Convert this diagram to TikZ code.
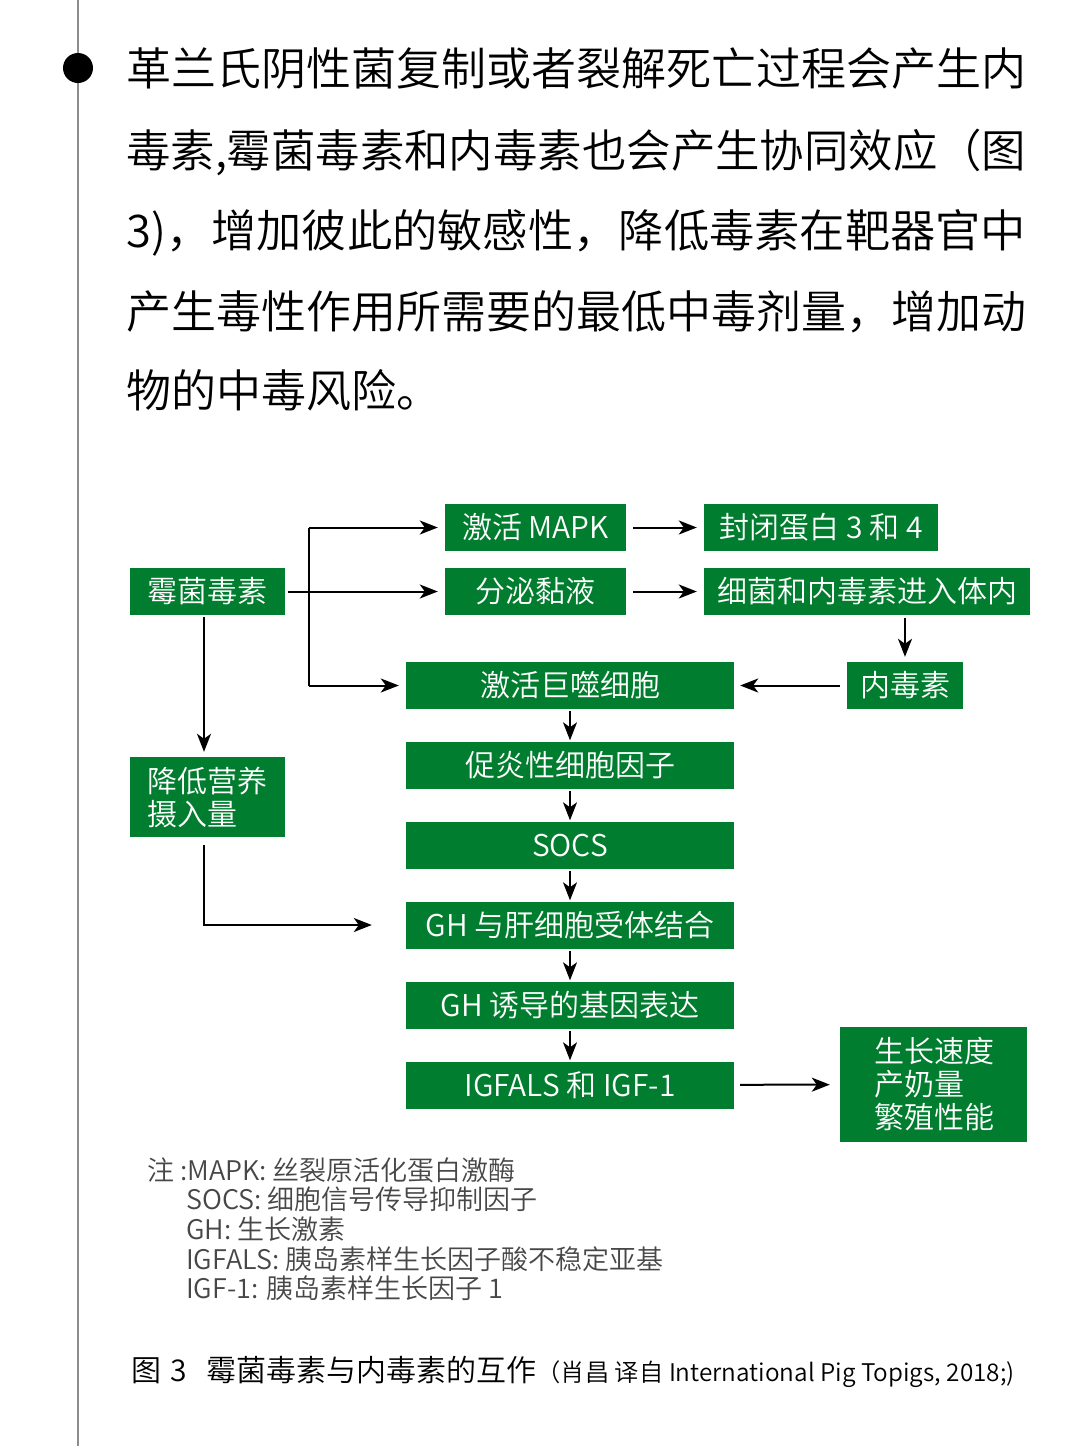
\documentclass[tikz,border=0pt]{standalone}
\usepackage{fontspec}
\setmainfont{Noto Sans CJK SC}[UprightFont={* DemiLight}]
\usetikzlibrary{arrows.meta}
\definecolor{boxgreen}{RGB}{0,125,46}
\definecolor{rulegray}{RGB}{140,140,140}
\begin{document}
\begin{tikzpicture}[x=1pt,y=-1pt,
  gbox/.style={fill=boxgreen, text=white, inner sep=0pt,
    font=\fontsize{30pt}{33pt}\selectfont, text height=26.4pt, text depth=3.6pt},
  gboxm/.style={fill=boxgreen, text=white, inner sep=0pt, align=left,
    font=\fontsize{30pt}{33pt}\selectfont},
  arr/.style={draw=black, line width=2pt, -{Stealth[length=18pt,width=14pt,inset=5pt]}},
  ln/.style={draw=black, line width=2pt},
  para/.style={anchor=west, inner sep=0pt, font=\fontsize{45pt}{54pt}\selectfont,
    text height=39.6pt, text depth=5.4pt},
  note/.style={anchor=west, inner sep=0pt, text=black!72,
    font=\fontsize{27pt}{30pt}\selectfont, text height=23.8pt, text depth=3.2pt}]
\useasboundingbox[fill=white] (0,0) rectangle (1080,1446);

% side rule and bullet
\coordinate (rtop) at (78,0);
\coordinate (rbot) at (78,1446);
\draw[rulegray, line width=1.5pt] (rtop) -- (rbot);
\fill[black] (78,68) circle (15pt);

% paragraph
\node[para] (p1) at (126,68) {\resizebox{900pt}{\height}{革兰氏阴性菌复制或者裂解死亡过程会产生内}};
\node[para] (p2) at (126,150) {\resizebox{900pt}{\height}{毒素,霉菌毒素和内毒素也会产生协同效应（图}};
\node[para] (p3) at (126,230) {\resizebox{900pt}{\height}{3)，增加彼此的敏感性，降低毒素在靶器官中}};
\node[para] (p4) at (126,311) {\resizebox{900pt}{\height}{产生毒性作用所需要的最低中毒剂量，增加动}};
\node[para] (p5) at (126,390) {物的中毒风险。};

% boxes
\node[gbox, minimum width=155pt, minimum height=47pt] (mold) at (207,591.5) {霉菌毒素};
\node[gbox, minimum width=181pt, minimum height=47pt] (mapk) at (535.5,527.5) {激活 MAPK};
\node[gbox, minimum width=181pt, minimum height=47pt] (muc) at (535.5,591.5) {分泌黏液};
\node[gbox, minimum width=234pt, minimum height=47pt] (cld) at (821,527.5) {封闭蛋白 3 和 4};
\node[gbox, minimum width=326pt, minimum height=47pt] (bact) at (867,591.5) {细菌和内毒素进入体内};
\node[gbox, minimum width=116pt, minimum height=47pt] (endo) at (905,685.5) {内毒素};
\node[gbox, minimum width=328pt, minimum height=47pt] (mac) at (570,685.5) {激活巨噬细胞};
\node[gbox, minimum width=328pt, minimum height=47pt] (cyt) at (570,765) {促炎性细胞因子};
\node[gbox, minimum width=328pt, minimum height=47pt] (socs) at (570,845) {SOCS};
\node[gbox, minimum width=328pt, minimum height=47pt] (gh) at (570,925) {GH 与肝细胞受体结合};
\node[gbox, minimum width=328pt, minimum height=47pt] (ghx) at (570,1005) {GH 诱导的基因表达};
\node[gbox, minimum width=328pt, minimum height=47pt] (igf) at (570,1085) {IGFALS 和 IGF-1};
\node[gboxm, minimum width=155pt, minimum height=80pt, text width=121pt, inner xsep=17pt] (nut) at (207.5,797) {降低营养\\摄入量};
\node[gboxm, minimum width=187pt, minimum height=115pt, text width=118pt] (perf) at (933.5,1084.5) {生长速度\\产奶量\\繁殖性能};

% connectors
\coordinate (jt) at (309,527.5);
\coordinate (jb) at (309,685.5);
\draw[arr, shorten <=3pt, shorten >=7pt] (mold) -- (muc);
\draw[ln] (jt) -- (jb);
\draw[arr, shorten >=7pt] (jt) -- (mapk.west);
\draw[arr, shorten >=7pt] (jb) -- (mac.west);
\draw[arr, shorten <=7pt, shorten >=7pt] (mapk) -- (cld);
\draw[arr, shorten <=7pt, shorten >=7pt] (muc) -- (bact);
\draw[arr, shorten <=3pt, shorten >=5pt] (bact.south -| endo.north) -- (endo.north);
\draw[arr, shorten <=7pt, shorten >=6pt] (endo) -- (mac);
\draw[arr, shorten <=2pt, shorten >=1pt] (mac) -- (cyt);
\draw[arr, shorten <=2pt, shorten >=1pt] (cyt) -- (socs);
\draw[arr, shorten <=2pt, shorten >=1pt] (socs) -- (gh);
\draw[arr, shorten <=2pt, shorten >=1pt] (gh) -- (ghx);
\draw[arr, shorten <=2pt, shorten >=1pt] (ghx) -- (igf);
\draw[arr, shorten <=2pt, shorten >=5pt] ([xshift=-3pt]mold.south) -- ([xshift=-3.5pt]nut.north);
\draw[arr, shorten <=8pt, shorten >=34pt] ([xshift=-3.5pt]nut.south) |- (gh.west);
\draw[arr, shorten <=6pt, shorten >=10pt] (igf) -- (perf);

% notes
\node[note] (n1) at (147,1170) {注 :MAPK: 丝裂原活化蛋白激酶};
\node[note] (n2) at (186,1199) {SOCS: 细胞信号传导抑制因子};
\node[note] (n3) at (186,1229) {GH: 生长激素};
\node[note] (n4) at (186,1259) {IGFALS: 胰岛素样生长因子酸不稳定亚基};
\node[note] (n5) at (186,1288) {IGF-1: 胰岛素样生长因子 1};

% caption
\node[anchor=west, inner sep=0pt, font=\fontsize{30pt}{36pt}\selectfont,
  text height=26.4pt, text depth=3.6pt] (cap) at (131,1370)
  {图\hspace{9pt}3\hspace{20pt}霉菌毒素与内毒素的互作{\fontsize{24.3pt}{28pt}\selectfont（肖昌 译自 International Pig Topigs, 2018;)}};
\end{tikzpicture}
\end{document}
